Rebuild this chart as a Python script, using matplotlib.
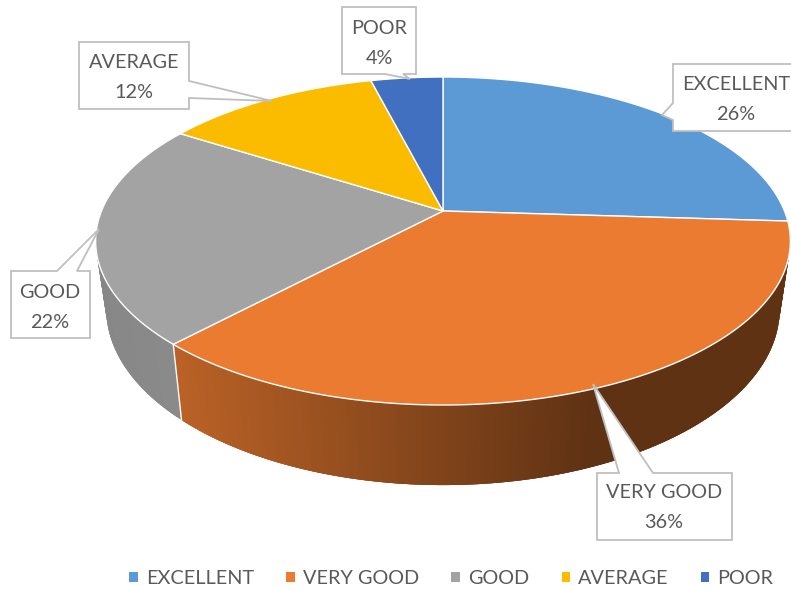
import numpy as np
import matplotlib
matplotlib.use("Agg")
import matplotlib.pyplot as plt
from matplotlib.patches import Patch, Polygon

categories = ["EXCELLENT", "VERY GOOD", "GOOD", "AVERAGE", "POOR"]
shares = [26, 36, 22, 12, 4]
colors = ["#5B9AD5", "#EA7B30", "#A3A3A3", "#FBBC00", "#4270C1"]

# perspective model of the tilted disc (figure pixels)
CX, K = 443.0, 0.183
TOP_BX, TOP_AY, TOP_Y0 = 341.5, 158.5, 211.0
BOT_BX, BOT_AY, BOT_Y0 = 331.0, 170.0, 277.0

label_text = {"EXCELLENT": (736, 85, 115), "VERY GOOD": (664, 493, 523), "GOOD": (50, 292, 322),
              "AVERAGE": (134, 62, 93), "POOR": (379, 28, 59)}
label_box = {
    "EXCELLENT": [(673, 64), (796, 64), (796, 131), (673, 131), (673, 120), (662, 115), (673, 103)],
    "VERY GOOD": [(597, 473), (619, 473), (593, 384), (653, 473), (732, 473), (732, 540), (597, 540)],
    "GOOD": [(11, 271), (57, 271), (99, 229), (77, 271), (90, 271), (90, 338), (11, 338)],
    "AVERAGE": [(79, 42), (189, 42), (189, 81), (272, 101), (189, 98), (189, 109), (79, 109)],
    "POOR": [(342, 7), (416, 7), (416, 74), (403, 74), (410, 79), (385, 74), (342, 74)],
}

plt.rcParams["font.family"] = ["Lato", "DejaVu Sans"]
FS = 14.3
fig = plt.figure(figsize=(7.91, 5.90), dpi=100)
ax = fig.add_axes([0, 0, 1, 1])
ax.set_xlim(0, 791)
ax.set_ylim(590, 0)
ax.axis("off")


def project(theta, bx, ay, y0):
    u, v = np.sin(theta), np.cos(theta)
    w = 1 + K * v
    return CX + bx * u / w, y0 - ay * v / w


def wall_colour(x, base):
    base = np.array(matplotlib.colors.to_rgb(base))
    if base[0] == base[2]:  # grey slice: nearly flat shading
        return tuple(np.clip(base * (0.83 + 0.02 * (x - 100) / 80), 0, 1))
    t = np.clip((x - 180) / (590 - 180), 0, 1)
    return tuple(base * (0.79 + (0.41 - 0.79) * t))


edges = np.cumsum([0] + shares) / sum(shares) * 2 * np.pi
for i in [2, 1]:
    a0, a1 = edges[i], edges[i + 1]
    th = np.linspace(a0, a1, int(max(4, (a1 - a0) * 120)))
    xt, yt = project(th, TOP_BX, TOP_AY, TOP_Y0)
    xb, yb = project(th, BOT_BX, BOT_AY, BOT_Y0)
    n = len(th)
    for j in range(n - 1):
        k = min(j + 3, n - 1)  # overlap neighbours so no hairline seams show
        c = wall_colour((xt[j] + xt[j + 1]) / 2, colors[i])
        ax.fill(np.r_[xt[j:k + 1], xb[j:k + 1][::-1]], np.r_[yt[j:k + 1], yb[j:k + 1][::-1]],
                facecolor=c, edgecolor="none", zorder=2)

# seam between the visible walls
xs_t, ys_t = project(edges[2], TOP_BX, TOP_AY, TOP_Y0)
xs_b, ys_b = project(edges[2], BOT_BX, BOT_AY, BOT_Y0)
ax.plot([xs_t, xs_b], [ys_t, ys_b], color="white", lw=1.0, zorder=3)

for i, name in enumerate(categories):
    th = np.linspace(edges[i], edges[i + 1], 200)
    x, y = project(th, TOP_BX, TOP_AY, TOP_Y0)
    ax.fill(np.r_[CX, x], np.r_[TOP_Y0, y], facecolor=colors[i], edgecolor="white", linewidth=1.0,
            joinstyle="round", zorder=4)

for name, share in zip(categories, shares):
    ax.add_patch(Polygon(label_box[name], closed=True, facecolor="white", edgecolor="#BFBFBF",
                         linewidth=1.3, zorder=5, clip_on=True))
    x, y1, y2 = label_text[name]
    ax.text(x, y1, name, ha="center", va="center", fontsize=FS, color="#595959", zorder=6)
    ax.text(x, y2, f"{share}%", ha="center", va="center", fontsize=FS, color="#595959", zorder=6)

handles = [Patch(facecolor=c, edgecolor="none", label=n) for c, n in zip(colors, categories)]
ax.legend(handles=handles, ncol=5, loc="center", bbox_to_anchor=(451.5, 578.5),
          bbox_transform=ax.transData, frameon=False, fontsize=FS, labelcolor="#595959",
          handlelength=0.42, handleheight=0.42, handletextpad=0.42, columnspacing=1.62,
          borderpad=0, borderaxespad=0)

fig.savefig("out.png", dpi=100)
